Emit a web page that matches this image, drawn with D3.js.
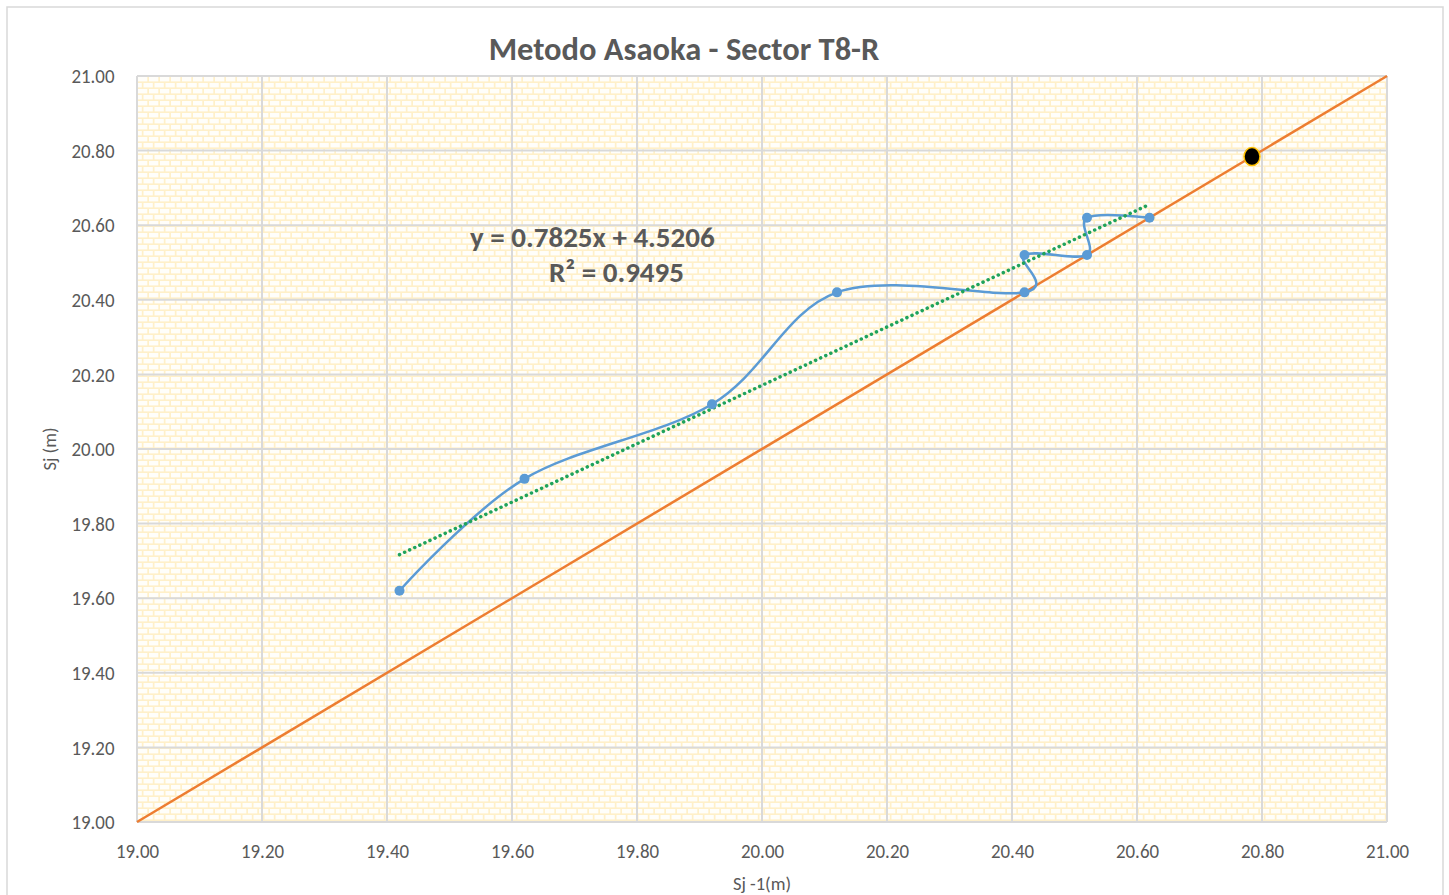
<!DOCTYPE html>
<html><head><meta charset="utf-8">
<script src="https://cdn.jsdelivr.net/npm/d3@7"></script>
<style>
html,body{margin:0;padding:0;background:#fff;}
text{font-family:Calibri, Carlito, Lato, "Liberation Sans", sans-serif;}
</style></head>
<body>
<svg id="chart" width="1449" height="895"></svg>
<script>
// ---- data ----
const title = "Metodo Asaoka - Sector T8-R";
const xLabel = "Sj -1(m)";
const yLabel = "Sj (m)";
const sPrev = [19.42, 19.62, 19.92, 20.12, 20.42, 20.42, 20.52, 20.52, 20.62];
const sCurr = [19.62, 19.92, 20.12, 20.42, 20.42, 20.52, 20.52, 20.62, 20.62];
const identityLine = [19.00, 21.00];
const finalPoint = [20.784, 20.784];
const trendSlope = 0.7825, trendIntercept = 4.5206;
const trendRange = [19.42, 20.62];
const eqText = "y = 0.7825x + 4.5206";
const r2Text = "R² = 0.9495";
const tickValues = [19.00, 19.20, 19.40, 19.60, 19.80, 20.00, 20.20, 20.40, 20.60, 20.80, 21.00];

const svg = d3.select("#chart");
const x = d3.scaleLinear().domain([19, 21]).range([137, 1387]);
const y = d3.scaleLinear().domain([19, 21]).range([822, 76]);
const grey = "#595959";
const sx = 0.9;

// outer border
svg.append("rect").attr("x", 7).attr("y", 7).attr("width", 1436).attr("height", 900)
  .attr("fill", "#fff").attr("stroke", "#D9D9D9").attr("stroke-width", 1.5);

// brick pattern
const defs = svg.append("defs");
const pat = defs.append("pattern").attr("id", "brick").attr("patternUnits", "userSpaceOnUse")
  .attr("x", 137).attr("y", 76).attr("width", 11).attr("height", 12);
pat.append("rect").attr("width", 11).attr("height", 12).attr("fill", "#FFF0C9");
[[1, 1], [6.5, 7], [-4.5, 7]].forEach(([bx, by]) => {
  pat.append("rect").attr("x", bx).attr("y", by).attr("width", 9.3).attr("height", 4.4).attr("fill", "#FFFEFA");
});
svg.append("rect").attr("x", x(19)).attr("y", y(21)).attr("width", x(21) - x(19)).attr("height", y(19) - y(21))
  .attr("fill", "url(#brick)");

// gridlines
const gx = svg.append("g").attr("stroke", "#D9D9D9").attr("stroke-width", 2);
tickValues.forEach(t => {
  gx.append("line").attr("x1", x(t)).attr("x2", x(t)).attr("y1", y(19)).attr("y2", y(21));
  gx.append("line").attr("y1", y(t)).attr("y2", y(t)).attr("x1", x(19)).attr("x2", x(21));
});

// axes
const xAxis = d3.axisBottom(x).tickValues(tickValues).tickFormat(d3.format(".2f")).tickSize(0).tickPadding(21);
const yAxis = d3.axisLeft(y).tickValues(tickValues).tickFormat(d3.format(".2f")).tickSize(0).tickPadding(25);
const gxa = svg.append("g").attr("transform", `translate(0,${y(19)})`).call(xAxis);
const gya = svg.append("g").attr("transform", `translate(${x(19)},0)`).call(yAxis);
[gxa, gya].forEach(g => {
  g.select(".domain").remove();
  g.selectAll("text").attr("fill", grey).style("font-size", "21px")
    .style("font-family", "Calibri, Carlito, Lato, 'Liberation Sans', sans-serif")
    .attr("transform", `scale(${sx},1)`);
});

// identity line
svg.append("line").attr("x1", x(identityLine[0])).attr("y1", y(identityLine[0]))
  .attr("x2", x(identityLine[1])).attr("y2", y(identityLine[1]))
  .attr("stroke", "#ED7D31").attr("stroke-width", 2.5);

// data smooth line
const pts = sPrev.map((v, i) => [v, sCurr[i]]);
const line = d3.line().x(d => x(d[0])).y(d => y(d[1])).curve(d3.curveCardinal.tension(0));
svg.append("path").attr("d", line(pts)).attr("fill", "none").attr("stroke", "#5B9BD5").attr("stroke-width", 2.5);

// trendline
const tl = trendRange.map(v => [v, trendSlope * v + trendIntercept]);
svg.append("path").attr("d", d3.line().x(d => x(d[0])).y(d => y(d[1]))(tl))
  .attr("fill", "none").attr("stroke", "#1FA35B").attr("stroke-width", 3.5)
  .attr("stroke-dasharray", "0.1 5.5").attr("stroke-linecap", "round");

// points
svg.append("g").selectAll("circle").data(pts).join("circle")
  .attr("cx", d => x(d[0])).attr("cy", d => y(d[1])).attr("r", 5).attr("fill", "#5B9BD5");

// final point
svg.append("ellipse").attr("cx", x(finalPoint[0])).attr("cy", y(finalPoint[1])).attr("rx", 8).attr("ry", 9)
  .attr("fill", "#000").attr("stroke", "#FFC000").attr("stroke-width", 1.5);

// equation
svg.append("text").attr("x", 470).attr("y", 247).attr("fill", grey).style("font-size", "29px").style("font-weight", "bold").text(eqText);
svg.append("text").attr("x", 549).attr("y", 282).attr("fill", grey).style("font-size", "29px").style("font-weight", "bold").text(r2Text);

// title
svg.append("text").attr("x", 684).attr("y", 60).attr("text-anchor", "middle").attr("fill", grey)
  .style("font-size", "32.5px").style("font-weight", "bold").text(title);

// axis titles
svg.append("text").attr("x", 762).attr("y", 890).attr("text-anchor", "middle").attr("fill", grey)
  .style("font-size", "18.5px").text(xLabel);
svg.append("text").attr("transform", `translate(56,${y(20)}) rotate(-90)`).attr("text-anchor", "middle").attr("fill", grey)
  .style("font-size", "18.5px").text(yLabel);
</script>
</body></html>
